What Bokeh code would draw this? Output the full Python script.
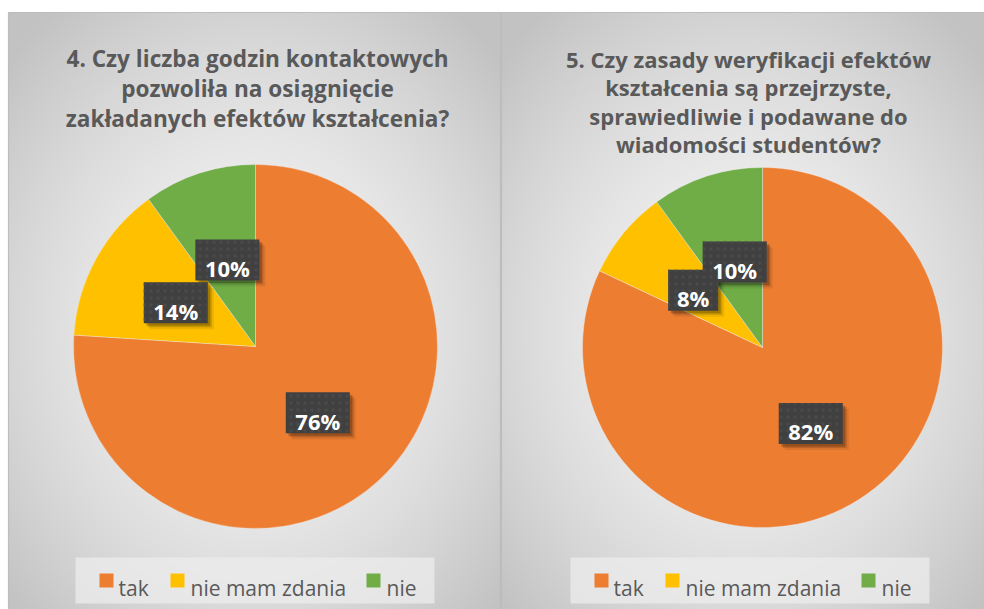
import numpy as np
from bokeh.plotting import figure
from bokeh.models import Range1d
from bokeh.embed import file_html
from bokeh.resources import INLINE
from bokeh.core.properties import value

# ---------------- data ----------------
categories = ["tak", "nie mam zdania", "nie"]
slice_colors = ["#ED7D31", "#FFC000", "#70AD47"]
q4_values = [76, 14, 10]
q5_values = [82, 8, 10]
q4_title = ["4. Czy liczba godzin kontaktowych",
            "pozwoliła na osiągnięcie",
            "zakładanych efektów kształcenia?"]
q5_title = ["5. Czy zasady weryfikacji efektów",
            "kształcenia są przejrzyste,",
            "sprawiedliwie i podawane do",
            "wiadomości studentów?"]

# ---------------- figure (1 data unit = 1 screen px) ----------------
W, H = 984, 609
p = figure(width=W, height=H, x_range=Range1d(0, W), y_range=Range1d(0, H),
           output_backend="svg", toolbar_location=None, min_border=0)
p.axis.visible = False
p.grid.visible = False
p.outline_line_color = None
p.background_fill_color = "white"
p.border_fill_color = "white"


def Y(ry):
    return H - ry


FONT = value("Open Sans")


def panel_bg(x0, x1, y0, y1, cx, cy):
    w, h = int(x1 - x0), int(y1 - y0)
    xs = np.arange(w) + x0 + 0.5
    ys = y1 - (np.arange(h) + 0.5)  # row 0 = bottom
    XX, YY = np.meshgrid(xs, ys)
    d = np.sqrt(((XX - cx) / (w * 0.62)) ** 2 + ((YY - cy) / (h * 0.62)) ** 2)
    g = np.clip(245 - 44 * d ** 1.6, 194, 245).astype(np.uint8)
    img = np.empty((h, w), dtype=np.uint32)
    v = img.view(dtype=np.uint8).reshape((h, w, 4))
    v[..., 0] = g
    v[..., 1] = g
    v[..., 2] = g
    v[..., 3] = 255
    p.image_rgba(image=[img], x=x0, y=Y(y1), dw=w, dh=h)
    p.quad(left=x0, right=x1, bottom=Y(y1), top=Y(y0), fill_color=None,
           line_color="#bdbdbd", line_width=1.2)


def pie(cx, cy, r, vals, title_lines, tx, t_base, t_step, t_size, leg_left):
    # title
    for i, line in enumerate(title_lines):
        p.text(x=[tx], y=[Y(t_base + i * t_step)], text=[line], text_font=FONT,
               text_font_style="bold", text_font_size=t_size, text_color="#595959",
               text_align="center", text_baseline="alphabetic")
    # wedges
    v = np.array(vals, dtype=float)
    frac = v / v.sum()
    cum = np.cumsum(frac)
    start = np.pi / 2 - 2 * np.pi * (cum - frac)
    end = np.pi / 2 - 2 * np.pi * cum
    p.wedge(x=cx, y=Y(cy), radius=r, start_angle=start, end_angle=end,
            direction="clock", fill_color=slice_colors, line_color="#f0f0f0",
            line_width=0.6, line_alpha=0.6)
    # data labels
    mid = np.pi / 2 - 2 * np.pi * (cum - frac / 2)
    lx = cx + 0.5 * r * np.cos(mid)
    ly = Y(cy) + 0.5 * r * np.sin(mid)
    labels = [f"{int(a)}%" for a in vals]
    bw = [22 + 14 * len(s) for s in labels]
    for al, off in [(0.08, 6), (0.14, 4), (0.20, 2.5)]:
        p.rect(x=lx + off, y=ly - off, width=bw, height=41, fill_color="black",
               fill_alpha=al, line_color=None)
    p.rect(x=lx, y=ly, width=bw, height=41, fill_color="#404040", line_color=None,
           hatch_pattern="dot", hatch_color="#494949", hatch_scale=7, hatch_weight=1)
    p.text(x=lx, y=ly - 8, text=labels, text_font=FONT, text_font_style="bold",
           text_font_size="22px", text_color="white", text_align="center",
           text_baseline="alphabetic")
    # legend
    p.quad(left=leg_left, right=leg_left + 359, bottom=Y(603), top=Y(557),
           fill_color="#ececec", fill_alpha=0.75, line_color=None)
    sq_off = [31, 102, 298]
    tx_off = [43, 115, 311]
    p.rect(x=[leg_left + o for o in sq_off], y=Y(580), width=14, height=14,
           fill_color=slice_colors, line_color=None)
    p.text(x=[leg_left + o for o in tx_off], y=Y(587), text=categories, text_font=FONT,
           text_font_size="21px", text_color="#595959", text_align="left",
           text_baseline="alphabetic")


panel_bg(8, 500, 12, 609, 254, 330)
panel_bg(501, 984, 12, 609, 742, 330)

pie(255, 346, 182, q4_values, q4_title, 257, 58, 30, "22.6px", 75)
pie(762, 347, 180, q5_values, q5_title, 748, 58, 28.5, "22px", 570)

open("out.html", "w").write(file_html(p, INLINE))
